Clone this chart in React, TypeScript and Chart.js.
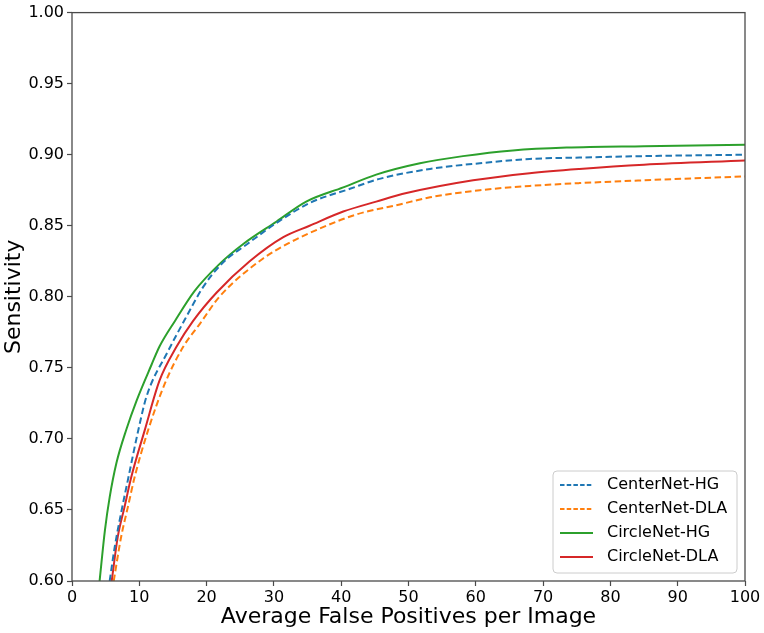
import React, { useEffect, useRef } from "react";
import { Chart, registerables } from "chart.js";
Chart.register(...registerables);

// ---- data ----
const xTickValues = [0, 10, 20, 30, 40, 50, 60, 70, 80, 90, 100];
const yTickValues = [0.6, 0.65, 0.7, 0.75, 0.8, 0.85, 0.9, 0.95, 1.0];

const centerNetHGX = [5.6, 6.35, 7.3, 8.3, 9.8, 11.05, 14.3, 17.0, 19.5, 22.4, 26.0, 30.4, 35.3, 41.3, 45.7, 53.2, 60.6, 68.0, 75.4, 85, 100];
const centerNetHGY = [0.6, 0.624, 0.648, 0.671, 0.705, 0.7295, 0.762, 0.786, 0.807, 0.824, 0.837, 0.852, 0.866, 0.876, 0.883, 0.89, 0.894, 0.897, 0.898, 0.899, 0.9];

const centerNetDLAX = [6.2, 7.3, 8.3, 9.3, 11.3, 13.8, 16.5, 19.0, 21.9, 28.4, 32.3, 37.3, 42.3, 48.7, 53.2, 60.6, 68.0, 75.4, 85, 100];
const centerNetDLAY = [0.6, 0.631, 0.652, 0.673, 0.706, 0.739, 0.7646, 0.781, 0.8, 0.827, 0.838, 0.849, 0.858, 0.865, 0.87, 0.875, 0.878, 0.88, 0.882, 0.8847];

const circleNetHGX = [4.1, 4.9, 5.6, 6.6, 8.1, 9.6, 11.8, 13.0, 15.3, 18.2, 21.9, 25.4, 30.4, 34.8, 40.3, 45.2, 51.7, 58.1, 65.5, 73.5, 85, 100];
const circleNetHGY = [0.6, 0.636, 0.659, 0.683, 0.707, 0.727, 0.752, 0.765, 0.783, 0.804, 0.823, 0.837, 0.853, 0.867, 0.877, 0.886, 0.894, 0.899, 0.903, 0.905, 0.906, 0.907];

const circleNetDLAX = [5.9, 6.8, 7.8, 8.8, 10.8, 13.0, 15.5, 18.0, 21.5, 26.4, 31.4, 35.3, 40.3, 45.2, 49.7, 59.6, 68.0, 75.4, 85, 100];
const circleNetDLAY = [0.6, 0.631, 0.652, 0.673, 0.706, 0.741, 0.7646, 0.783, 0.803, 0.825, 0.842, 0.85, 0.86, 0.867, 0.873, 0.882, 0.887, 0.89, 0.893, 0.896];

const seriesLabels = ["CenterNet-HG", "CenterNet-DLA", "CircleNet-HG", "CircleNet-DLA"];

const FONT = '"DejaVu Sans", "Liberation Sans", sans-serif';
const SPINE = "#4a4a4a";

const toPoints = (xs: number[], ys: number[]) => xs.map((x, i) => ({ x, y: ys[i] }));

const framePlugin = {
  id: "frameAndLegend",
  afterDatasetsDraw(chart: any) {
    const { ctx, chartArea } = chart;
    ctx.save();
    // full frame (matplotlib spines)
    ctx.strokeStyle = SPINE;
    ctx.lineWidth = 1.3;
    ctx.setLineDash([]);
    ctx.strokeRect(chartArea.left, chartArea.top, chartArea.right - chartArea.left, chartArea.bottom - chartArea.top);

    // legend inside lower right
    const w = 184;
    const h = 102;
    const x0 = chartArea.right - 8 - w;
    const y0 = chartArea.bottom - 8 - h;
    ctx.beginPath();
    if (ctx.roundRect) ctx.roundRect(x0, y0, w, h, 4);
    else ctx.rect(x0, y0, w, h);
    ctx.fillStyle = "rgba(255,255,255,0.8)";
    ctx.fill();
    ctx.strokeStyle = "#cccccc";
    ctx.lineWidth = 1;
    ctx.stroke();
    chart.data.datasets.forEach((ds: any, i: number) => {
      const cy = y0 + 14 + i * 24;
      ctx.beginPath();
      ctx.setLineDash(ds.borderDash && ds.borderDash.length ? [4.5, 2.2] : []);
      ctx.strokeStyle = ds.borderColor;
      ctx.lineWidth = 2;
      ctx.moveTo(x0 + 7, cy);
      ctx.lineTo(x0 + 40, cy);
      ctx.stroke();
      ctx.setLineDash([]);
      ctx.fillStyle = "#000";
      ctx.font = `16px ${FONT}`;
      ctx.textBaseline = "middle";
      ctx.textAlign = "left";
      ctx.fillText(ds.label, x0 + 54, cy);
    });
    ctx.restore();
  },
};

export default function App() {
  const ref = useRef<HTMLCanvasElement | null>(null);
  useEffect(() => {
    if (!ref.current) return;
    const chart = new Chart(ref.current, {
      type: "line",
      data: {
        datasets: [
          {
            label: seriesLabels[0],
            data: toPoints(centerNetHGX, centerNetHGY),
            borderColor: "#1f77b4",
            borderDash: [6.5, 3.5],
          },
          {
            label: seriesLabels[1],
            data: toPoints(centerNetDLAX, centerNetDLAY),
            borderColor: "#ff7f0e",
            borderDash: [6.5, 3.5],
          },
          {
            label: seriesLabels[2],
            data: toPoints(circleNetHGX, circleNetHGY),
            borderColor: "#2ca02c",
          },
          {
            label: seriesLabels[3],
            data: toPoints(circleNetDLAX, circleNetDLAY),
            borderColor: "#d62728",
          },
        ].map((d) => ({
          ...d,
          borderWidth: 2,
          pointRadius: 0,
          fill: false,
          cubicInterpolationMode: "monotone" as const,
          clip: 0,
        })),
      },
      options: {
        animation: false,
        responsive: true,
        maintainAspectRatio: false,
        layout: { padding: { top: 11, right: 19, left: 0, bottom: 0 } },
        plugins: { legend: { display: false }, tooltip: { enabled: false } },
        scales: {
          x: {
            type: "linear",
            min: 0,
            max: 100,
            afterBuildTicks: (axis: any) => {
              axis.ticks = xTickValues.map((v) => ({ value: v }));
            },
            afterFit: (axis: any) => {
              axis.height = 52;
            },
            grid: { drawOnChartArea: false, drawTicks: true, tickLength: 5, color: SPINE, tickWidth: 1.2 },
            border: { display: false },
            ticks: {
              color: "#000",
              font: { family: FONT, size: 16 },
              padding: 2,
              maxRotation: 0,
              autoSkip: false,
              callback: (v: any) => String(v),
            },
            title: {
              display: true,
              text: "Average False Positives per Image",
              color: "#000",
              font: { family: FONT, size: 22 },
              padding: { top: 0, bottom: 3 },
            },
          },
          y: {
            type: "linear",
            min: 0.6,
            max: 1.0,
            afterBuildTicks: (axis: any) => {
              axis.ticks = yTickValues.map((v) => ({ value: v }));
            },
            afterFit: (axis: any) => {
              axis.width = 72;
            },
            grid: { drawOnChartArea: false, drawTicks: true, tickLength: 5, color: SPINE, tickWidth: 1.2 },
            border: { display: false },
            ticks: {
              color: "#000",
              font: { family: FONT, size: 16 },
              padding: 3,
              autoSkip: false,
              callback: (v: any) => Number(v).toFixed(2),
            },
            title: {
              display: true,
              text: "Sensitivity",
              color: "#000",
              font: { family: FONT, size: 22 },
              padding: { top: 1, bottom: 0 },
            },
          },
        },
      },
      plugins: [framePlugin],
    });
    return () => chart.destroy();
  }, []);
  return (
    <div style={{ position: "absolute", left: 0, top: 0, width: 764, height: 633, background: "#fff" }}>
      <canvas ref={ref} />
    </div>
  );
}
